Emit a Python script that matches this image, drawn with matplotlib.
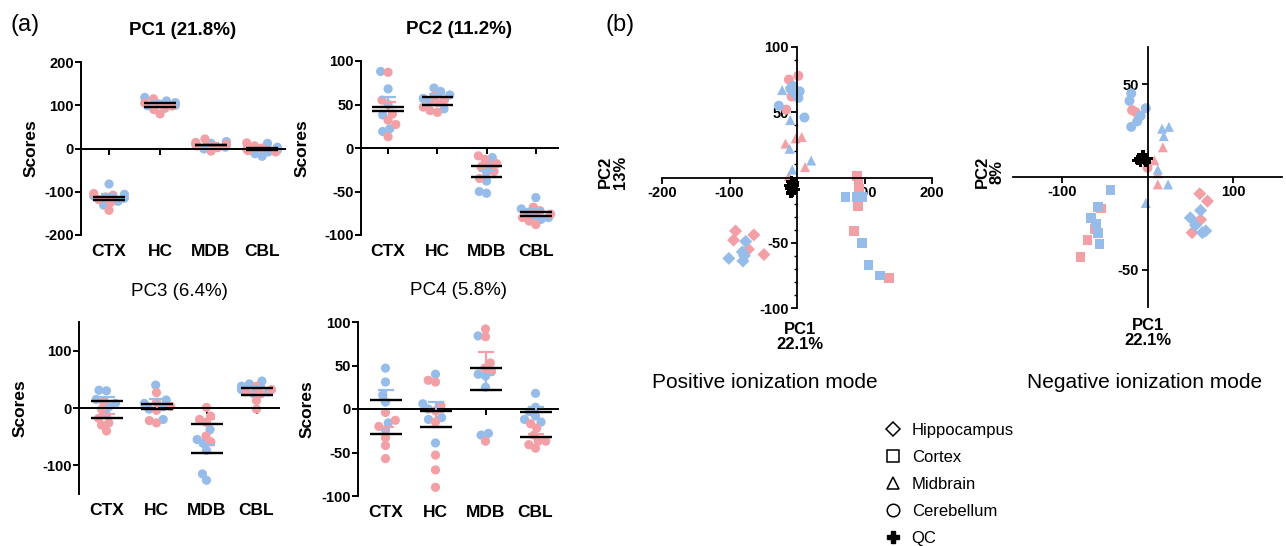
import numpy as np
import matplotlib
matplotlib.use('Agg')
import matplotlib.pyplot as plt
from matplotlib.lines import Line2D
from matplotlib.ticker import MultipleLocator, FixedLocator

plt.rcParams['font.family'] = ['Liberation Sans', 'DejaVu Sans']
plt.rcParams['axes.unicode_minus'] = False

PINK = '#f2a0a6'
BLUE = '#96bcea'

W, H = 1286, 546

regions = ['CTX', 'HC', 'MDB', 'CBL']

# (a) PC scores per region (CTX, HC, MDB, CBL), pink and blue groups
pc1_pink = [[-104, -108, -112, -118, -125, -143], [115, 105, 98, 93, 90, 80],
            [22, 14, 10, 6, 2, -6], [13, 6, 1, -2, -5, -8]]
pc1_blue = [[-82, -106, -110, -115, -122, -131], [118, 110, 106, 103, 100, 99],
            [16, 12, 9, 7, 3, -1], [12, 3, -4, -8, -12, -18]]
pc2_pink = [[87, 55, 39, 32, 27, 13], [60, 55, 52, 47, 43, 41],
            [-9, -13, -18, -22, -27, -35], [-68, -72, -76, -80, -84, -88]]
pc2_blue = [[88, 68, 50, 38, 22, 19], [69, 65, 61, 57, 53, 45],
            [-11, -20, -28, -38, -50, -52], [-57, -70, -74, -78, -80, -82]]
pc3_pink = [[11, -2, -18, -26, -30, -40], [27, 10, 3, -4, -22, -26],
            [1, -14, -20, -25, -49, -59], [38, 32, 28, 25, 13, -2]]
pc3_blue = [[31, 30, 15, 8, 2, -12], [40, 14, 8, 2, -2, -20],
            [-38, -55, -62, -74, -115, -126], [47, 42, 38, 32, 28, 25]]
pc4_pink = [[-4, -13, -20, -33, -42, -57], [33, 31, 4, -2, -15, -53, -70, -90],
            [92, 83, 53, 47, 43, -37], [-17, -22, -30, -37, -37, -41, -45]]
pc4_blue = [[47, 31, 16, 8, -16, -24], [40, 6, 0, -10, -12, -39],
            [84, 40, 38, 25, -28, -30], [18, 2, -3, -8, -12, -15]]

pc_titles = ['PC1 (21.8%)', 'PC2 (11.2%)', 'PC3 (6.4%)', 'PC4 (5.8%)']
pc_ylims = [(-200, 200), (-100, 100), (-150, 150), (-100, 100)]
pc_yticks = [[-200, -100, 0, 100, 200], [-100, -50, 0, 50, 100],
             [-100, 0, 100], [-100, -50, 0, 50, 100]]

# (b) PCA score plots, (PC1, PC2) pairs
pos_hippo_pink = [(-91, -41), (-94, -48), (-64, -44), (-72, -55), (-49, -59)]
pos_hippo_blue = [(-76, -49), (-81, -57), (-101, -62), (-80, -64), (-78, -60)]
pos_cortex_pink = [(89, 1), (91, -5), (92, -9), (90, -22), (84, -41), (136, -77)]
pos_cortex_blue = [(72, -15), (89, -15), (96, -15), (96, -50), (106, -67), (123, -75)]
pos_midbrain_pink = [(7, 31), (-2, 30), (-17, 26), (12, 8), (-12, 1)]
pos_midbrain_blue = [(-22, 67), (-10, 44), (-11, 22), (21, 13), (-7, 6)]
pos_cereb_pink = [(-12, 75), (2, 78), (-16, 52), (-8, 62)]
pos_cereb_blue = [(-10, 68), (-4, 65), (2, 61), (-27, 55), (11, 46), (-6, 70), (4, 66)]
pos_qc = [(-8, -3), (-5, -6), (-10, -8), (-3, -9), (-7, -11), (-12, -6), (-4, -4), (-9, -12)]

neg_hippo_pink = [(61, -9), (70, -13), (62, -23), (52, -30)]
neg_hippo_blue = [(62, -18), (50, -22), (56, -26), (68, -29), (64, -30)]
neg_cortex_pink = [(-54, -17), (-62, -28), (-70, -34), (-78, -43)]
neg_cortex_blue = [(-43, -7), (-58, -16), (-66, -22), (-60, -25), (-58, -30), (-56, -36)]
neg_midbrain_pink = [(18, 16), (8, 9), (12, 2), (12, -4)]
neg_midbrain_blue = [(17, 26), (25, 27), (19, 22), (12, 4), (24, -4), (-2, -14)]
neg_cereb_pink = [(-18, 36), (-14, 35), (0, 5)]
neg_cereb_blue = [(-19, 45), (-21, 41), (-2, 37), (-8, 33), (-12, 30), (-19, 27)]
neg_qc = [(-10, 10), (-6, 11), (-3, 9), (-8, 8), (0, 10), (-5, 12), (-2, 8), (-12, 9)]

legend_labels = ['Hippocampus', 'Cortex', 'Midbrain', 'Cerebellum', 'QC']


def rect(x0, y0, x1, y1):
    # pixel box (top-left origin) -> figure fraction
    return [x0 / W, 1 - y1 / H, (x1 - x0) / W, (y1 - y0) / H]


def swarm(values, xscale, yscale, d, cap):
    ''' horizontal offsets so that dots of diameter d (px) do not pile up '''
    values = np.asarray(values, float)
    placed = []
    offs = np.zeros(len(values))
    for i in np.argsort(values):
        y = values[i] * yscale
        bounds = []
        for px, py in placed:
            dy = abs(py - y)
            if dy < d:
                w = np.sqrt(d * d - dy * dy)
                bounds.append((px - w, px + w))
        cands = [0.0] + [b for lo, hi in bounds for b in (lo, hi)]
        cands.sort(key=abs)
        x = 0.0
        for c in cands:
            if all(not (lo + 1e-6 < c < hi - 1e-6) for lo, hi in bounds):
                x = c
                break
        x = np.clip(x, -cap * xscale, cap * xscale)
        placed.append((x, y))
        offs[i] = x / xscale
    return offs


def scores_panel(box, pink, blue, title, ylim, yticks, bold_title, ylab_x):
    ax = fig.add_axes(rect(*box))
    xlim = (-0.55, 3.45)
    ax.set_xlim(*xlim)
    ax.set_ylim(*ylim)
    xs = (box[2] - box[0]) / (xlim[1] - xlim[0])
    ys = (box[3] - box[1]) / (ylim[1] - ylim[0])

    for k in range(4):
        vals = list(blue[k]) + list(pink[k])
        cols = [BLUE] * len(blue[k]) + [PINK] * len(pink[k])
        off = swarm(vals, xs, ys, 7.5, 0.3)
        ax.scatter(k + off, vals, s=44, c=cols, edgecolors='none', zorder=2, clip_on=False)
        for grp, col in ((blue[k], BLUE), (pink[k], PINK)):
            m = np.mean(grp)
            sem = np.std(grp, ddof=1) / np.sqrt(len(grp))
            ax.errorbar(k, m, yerr=[[0], [sem]], color=col, lw=1.6, capsize=6,
                        capthick=1.6, zorder=3)
            ax.hlines(m, k - 0.32, k + 0.32, color='black', lw=1.7, zorder=4)

    for s in ('top', 'right'):
        ax.spines[s].set_visible(False)
    ax.spines['bottom'].set_position(('data', 0))
    ax.spines['left'].set_linewidth(1.4)
    ax.spines['bottom'].set_linewidth(1.4)
    ax.set_xticks(range(4))
    ax.tick_params(axis='x', labelbottom=False, length=4, width=1.4)
    ax.set_yticks(yticks)
    ax.tick_params(axis='y', length=4, width=1.4, labelsize=10.5, pad=1)
    for lab in ax.get_yticklabels():
        lab.set_fontweight('bold')
    for k, r in enumerate(regions):
        ax.text(k, -0.05, r, transform=ax.get_xaxis_transform(), ha='center', va='top',
                fontsize=12.5, fontweight='bold')
    ax.set_ylabel('Scores', fontsize=12.5, fontweight='bold')
    ax.yaxis.set_label_coords(ylab_x, 0.5)
    ax.text(0.5, 1.18, title, transform=ax.transAxes, ha='center', va='center',
            fontsize=13.5, fontweight='bold' if bold_title else 'normal')
    return ax


def score_plot(box, xlim, ylim, groups, qc, xticks, yticks, minor):
    ax = fig.add_axes(rect(*box))
    shapes = ['D', 's', '^', 'o']
    sizes = [44, 48, 52, 52]
    for shp, sz, (pink, blue) in zip(shapes, sizes, groups):
        for pts, col in ((pink, PINK), (blue, BLUE)):
            a = np.array(pts, float)
            ax.scatter(a[:, 0], a[:, 1], marker=shp, s=sz, c=col, edgecolors='none', zorder=2)
    q = np.array(qc, float)
    ax.scatter(q[:, 0], q[:, 1], marker='P', s=55, c='black', edgecolors='none', zorder=3)
    ax.set_xlim(*xlim)
    ax.set_ylim(*ylim)
    for s in ('top', 'right'):
        ax.spines[s].set_visible(False)
    ax.spines['left'].set_position(('data', 0))
    ax.spines['bottom'].set_position(('data', 0))
    ax.spines['left'].set_linewidth(1.3)
    ax.spines['bottom'].set_linewidth(1.3)
    ax.xaxis.set_major_locator(FixedLocator(xticks))
    ax.yaxis.set_major_locator(FixedLocator(yticks))
    if minor:
        ax.yaxis.set_minor_locator(MultipleLocator(minor))
    ax.set_xticklabels([str(t) if t else '' for t in xticks])
    ax.set_yticklabels([str(t) if t else '' for t in yticks])
    ax.tick_params(length=4, width=1.3, labelsize=10.5, pad=2)
    ax.tick_params(which='minor', length=2.5, width=1.0)
    for lab in ax.get_xticklabels() + ax.get_yticklabels():
        lab.set_fontweight('bold')
    return ax


fig = plt.figure(figsize=(W / 100, H / 100), dpi=100)

scores_panel((81, 62, 285, 235), pc1_pink, pc1_blue, pc_titles[0], pc_ylims[0], pc_yticks[0],
             True, -0.21)
scores_panel((361, 61, 558, 235), pc2_pink, pc2_blue, pc_titles[1], pc_ylims[1], pc_yticks[1],
             True, -0.26)
scores_panel((79, 322, 279, 494), pc3_pink, pc3_blue, pc_titles[2], pc_ylims[2], pc_yticks[2],
             False, -0.255)
scores_panel((358, 322, 558, 496), pc4_pink, pc4_blue, pc_titles[3], pc_ylims[3], pc_yticks[3],
             False, -0.215)

score_plot((662, 47, 932, 308), (-200, 200), (-100, 100),
           [(pos_hippo_pink, pos_hippo_blue), (pos_cortex_pink, pos_cortex_blue),
            (pos_midbrain_pink, pos_midbrain_blue), (pos_cereb_pink, pos_cereb_blue)],
           pos_qc, [-200, -100, 0, 100, 200], [-100, -50, 0, 50, 100], 10)
score_plot((1013, 47, 1282, 307), (-157, 157), (-70, 70),
           [(neg_hippo_pink, neg_hippo_blue), (neg_cortex_pink, neg_cortex_blue),
            (neg_midbrain_pink, neg_midbrain_blue), (neg_cereb_pink, neg_cereb_blue)],
           neg_qc, [-100, 100], [-50, 50], None)

# axis captions and panel letters
fig.text(25 / W, 1 - 25 / H, '(a)', fontsize=17, ha='center', va='center')
fig.text(620 / W, 1 - 25 / H, '(b)', fontsize=17, ha='center', va='center')
fig.text(613 / W, 1 - 172 / H, 'PC2\n13%', rotation=90, ha='center', va='center',
         fontsize=12, fontweight='bold', linespacing=1.0)
fig.text(800 / W, 1 - 337 / H, 'PC1\n22.1%', ha='center', va='center',
         fontsize=12, fontweight='bold', linespacing=1.0)
fig.text(990 / W, 1 - 172 / H, 'PC2\n8%', rotation=90, ha='center', va='center',
         fontsize=12, fontweight='bold', linespacing=1.0)
fig.text(1148 / W, 1 - 333 / H, 'PC1\n22.1%', ha='center', va='center',
         fontsize=12, fontweight='bold', linespacing=1.0)
fig.text(765 / W, 1 - 383 / H, 'Positive ionization mode', ha='center', va='center', fontsize=15)
fig.text(1145 / W, 1 - 383 / H, 'Negative ionization mode', ha='center', va='center', fontsize=15)

handles = [Line2D([], [], marker=m, ls='none', mfc='white', mec='black', mew=1.1, ms=ms)
           for m, ms in (('D', 7.5), ('s', 9), ('^', 9), ('o', 9))]
handles.append(Line2D([], [], marker='P', ls='none', mfc='black', mec='black', ms=8))
fig.legend(handles, legend_labels, loc='upper left', bbox_to_anchor=(885 / W, 1 - 423 / H),
           frameon=False, fontsize=12, labelspacing=0.72, handlelength=1.0,
           handletextpad=0.6, borderaxespad=0, borderpad=0)

fig.savefig('out.png', dpi=100)
